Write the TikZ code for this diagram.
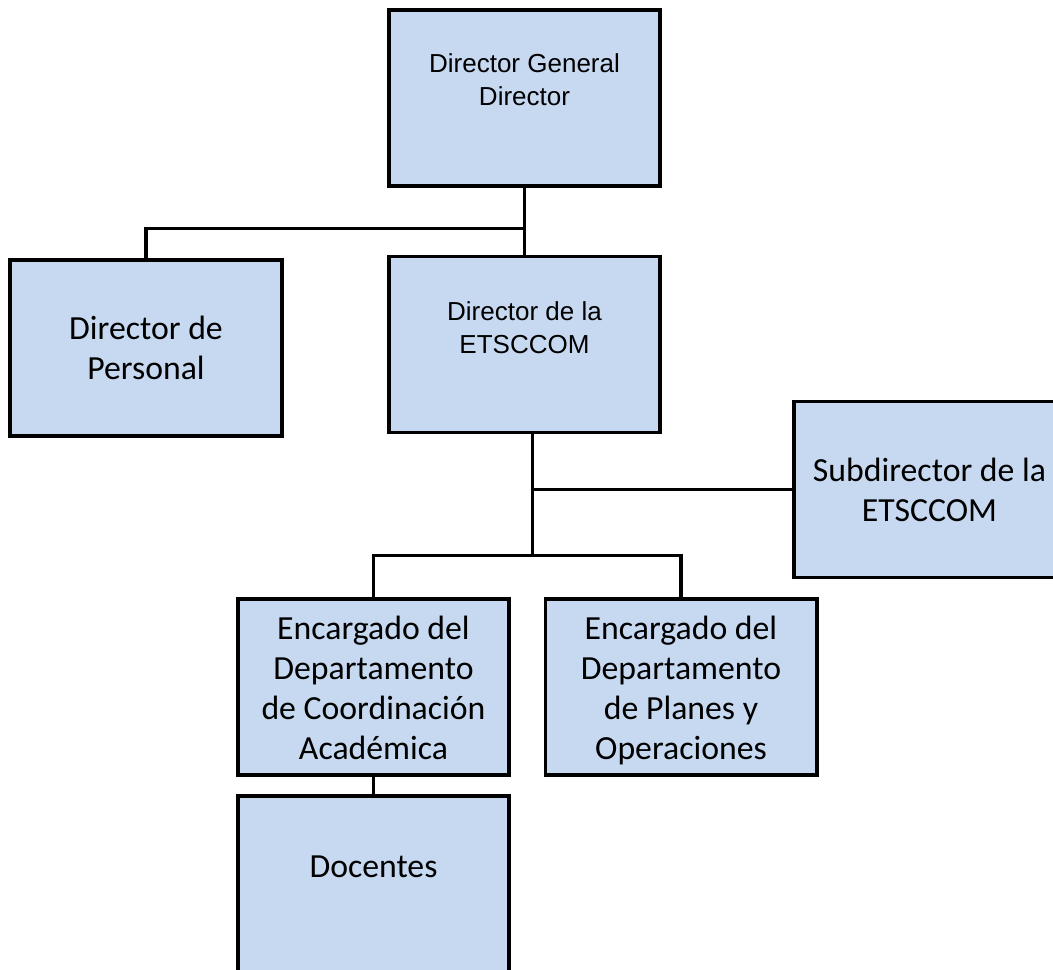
\documentclass[tikz,border=0pt]{standalone}
\usepackage{fontspec}
\newfontfamily\arialfont{Liberation Sans}
\newfontfamily\califont{Carlito}
\usetikzlibrary{positioning, calc}
\definecolor{boxblue}{RGB}{198,217,240}

\begin{document}
\begin{tikzpicture}[x=0.025cm, y=-0.025cm,
                box/.style={draw=black, fill=boxblue, line width=2.8pt, inner sep=0pt,
                            minimum width=6.775cm, minimum height=4.4cm, align=center,
                            font=\califont\fontsize{24}{28.5}\selectfont},
                arialtxt/.style={align=center, inner sep=0pt, font=\arialfont\fontsize{18.5}{23.5}\selectfont},
                calitxt/.style={align=center, inner sep=0pt, font=\califont\fontsize{24}{28.5}\selectfont},
                conn/.style={line width=2.4pt}]
                \useasboundingbox (0,0) rectangle (1053,970);

                \node[box] (dg)    at (524.5,97.75) {};
                \node[box] (pers)  at (146,348)     {Director de\\Personal};
                \node[box] (etsc)  at (524.5,344.5) {};
                \node[box] (sub)   at (929.5,489.5) {Subdirector de la\\ETSCCOM};
                \node[box] (coord) at (373.5,687)   {};
                \node[box] (plan)  at (681,687)     {};
                \node[box] (doc)   at (373.5,884)   {};

                \node[arialtxt] (dgtext)    at (524.5,80)  {Director General\\Director};
                \node[arialtxt] (etsctext)  at (524.5,328) {Director de la\\ETSCCOM};
                \node[calitxt]  (coordtext) at (373.5,694) {Encargado del\\Departamento\\de Coordinación\\Académica\strut};
                \node[calitxt]  (plantext)  at (681,694)   {Encargado del\\Departamento\\de Planes y\\Operaciones\strut};
                \node[calitxt]  (doctext)   at (373.5,867) {Docentes};

                % lineas de mando
                \coordinate (tjoin) at ($(dg.south)+(0,40.5)$);
                \coordinate (eout)  at ($(etsc.south)+(8,0)$);
                \coordinate (split) at ($(etsc.south)+(8,121)$);

                \draw[conn] (dg.south) -- (etsc.north);
                \draw[conn] (tjoin) -| (pers.north);
                \draw[conn] (eout) -- (split);
                \draw[conn] (eout) |- (sub.west);
                \draw[conn] (split) -| (coord.north);
                \draw[conn] (split) -| (plan.north);
                \draw[conn] (coord.south) -- (doc.north);
            \end{tikzpicture}
\end{document}
